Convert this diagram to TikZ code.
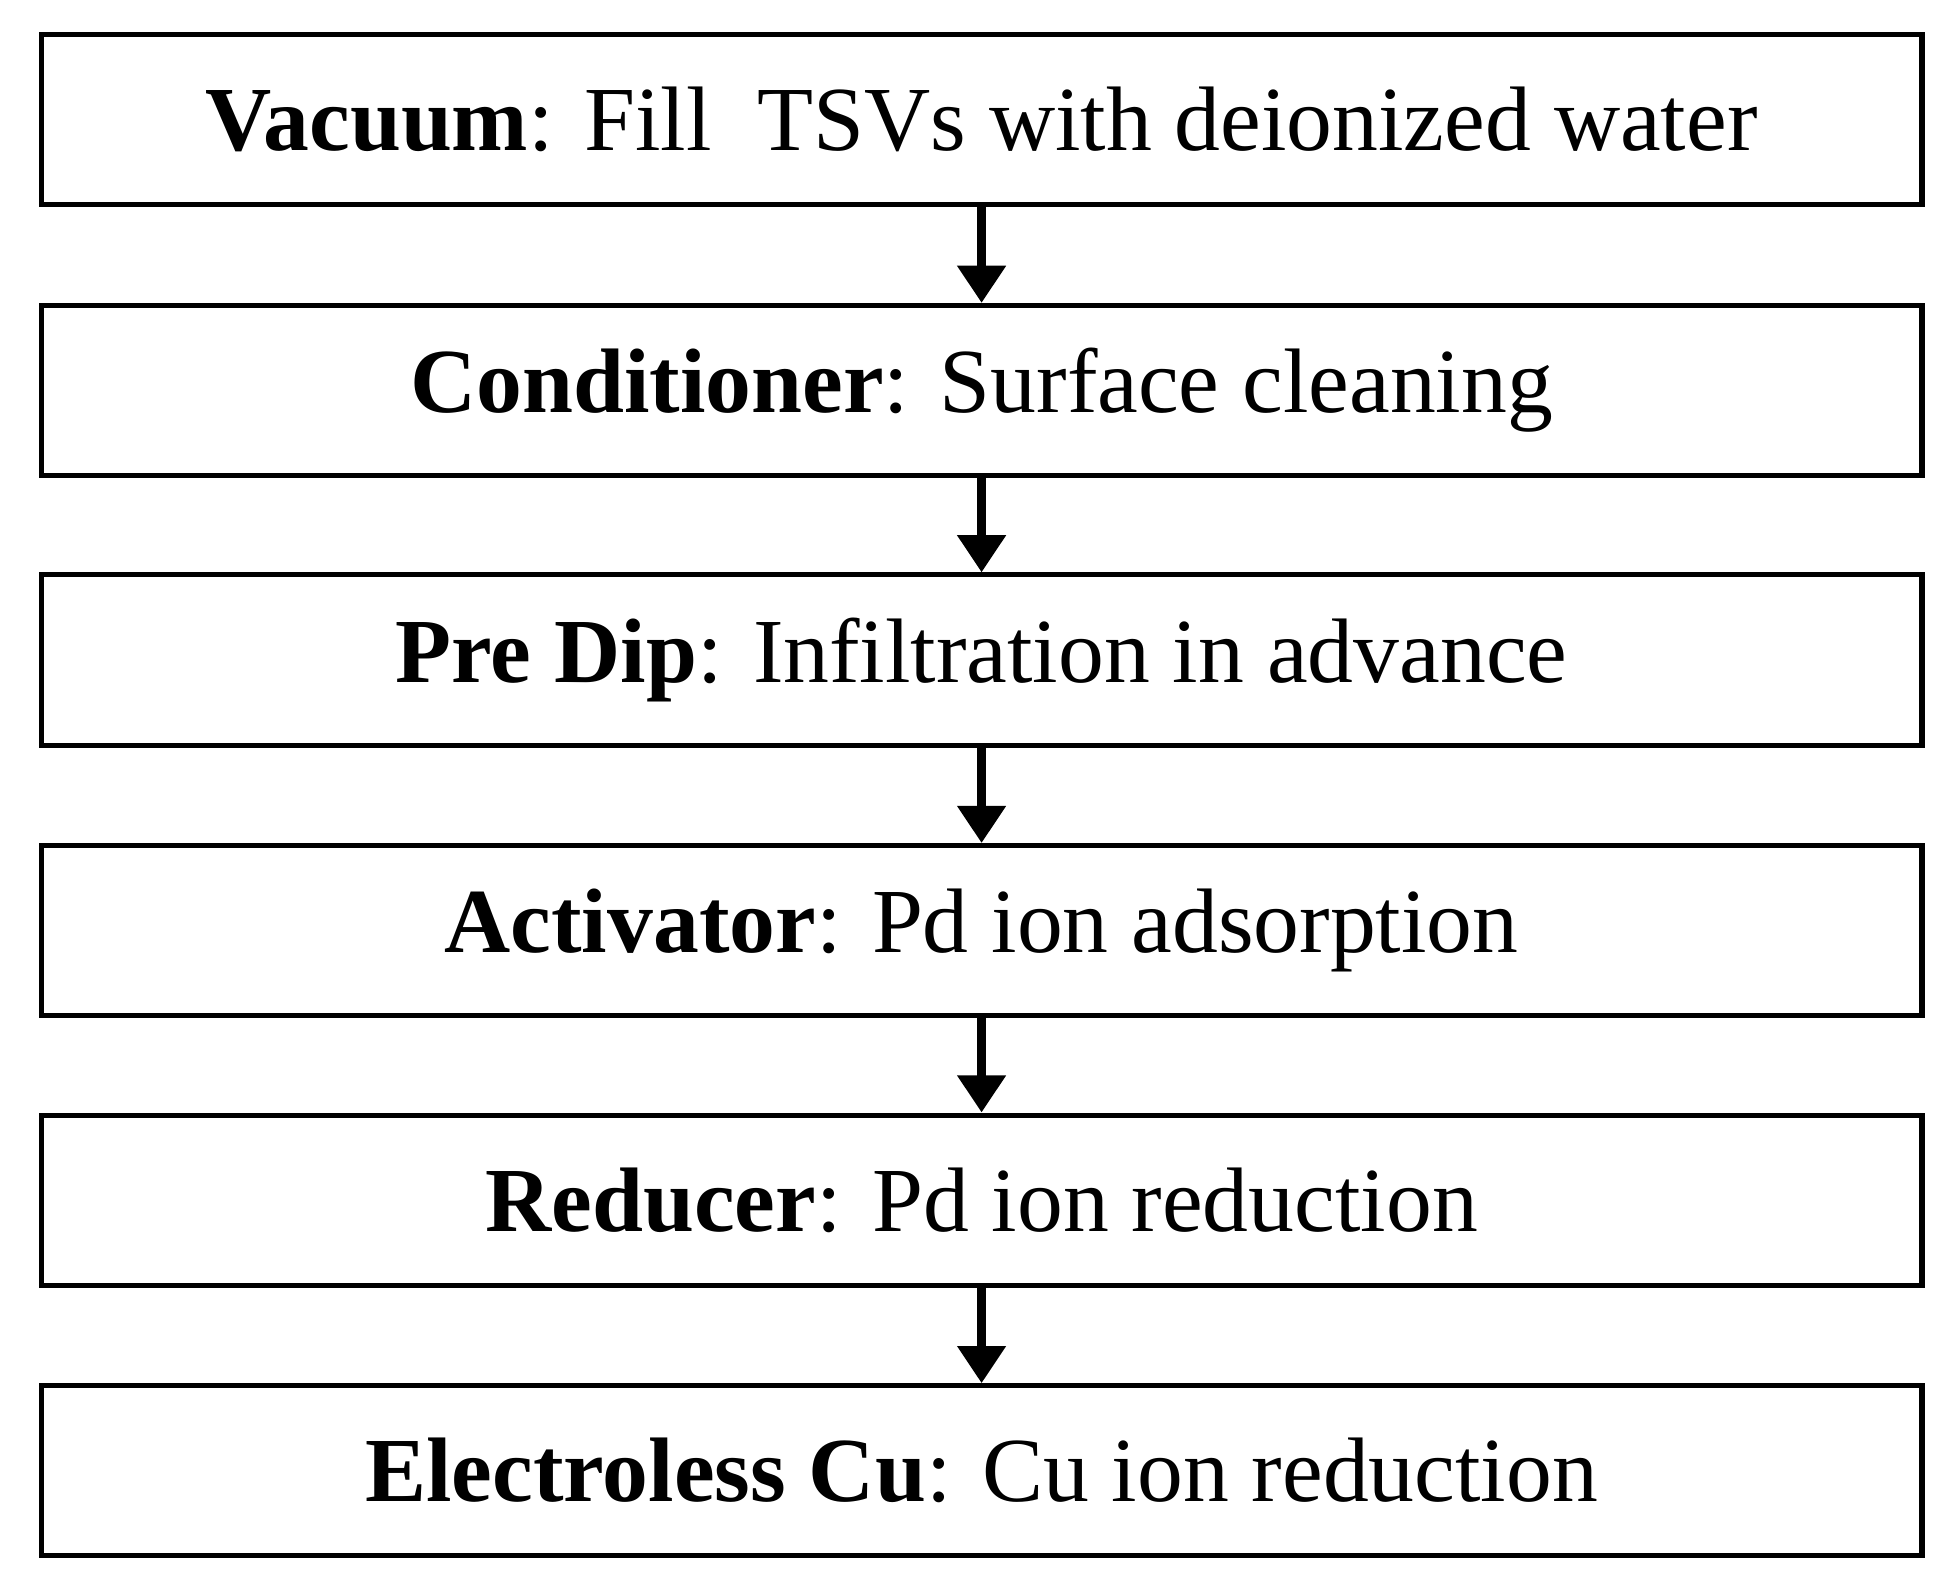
\documentclass[tikz,border=0pt]{standalone}
\usepackage{fontspec}
\setmainfont{Liberation Serif}
\usetikzlibrary{arrows.meta}
\tikzset{
    procstep/.style={draw=black, line width=2.3pt, minimum width=30.3cm, minimum height=2.74cm,
                 inner sep=0pt, font=\fontsize{42}{44}\selectfont},
    flow/.style={draw=black, line width=4.5pt, -{Triangle[length=0.6cm,width=0.75cm]}}
  }
\begin{document}
\begin{tikzpicture}[x=0.02cm,y=-0.02cm]
  \useasboundingbox (0,0) rectangle (1568,1277);
  % steps
      \node[procstep] (vac)  at (790.5,96.5)   {\textbf{Vacuum}: Fill\ \ TSVs with deionized water};
      \node[procstep] (cond) at (790.5,314.5)  {\textbf{Conditioner}: Surface cleaning};
      \node[procstep] (pre)  at (790.5,531.5)  {\textbf{Pre Dip}: Infiltration in advance};
      \node[procstep] (act)  at (790.5,749.5)  {\textbf{Activator}: Pd ion adsorption};
      \node[procstep] (red)  at (790.5,966.5)  {\textbf{Reducer}: Pd ion reduction};
      \node[procstep] (cu)   at (790.5,1184.5) {\textbf{Electroless Cu}: Cu ion reduction};
  % arrows
      \draw[flow] (vac.south)  -- (cond.north);
      \draw[flow] (cond.south) -- (pre.north);
      \draw[flow] (pre.south)  -- (act.north);
      \draw[flow] (act.south)  -- (red.north);
      \draw[flow] (red.south)  -- (cu.north);
\end{tikzpicture}
\end{document}
